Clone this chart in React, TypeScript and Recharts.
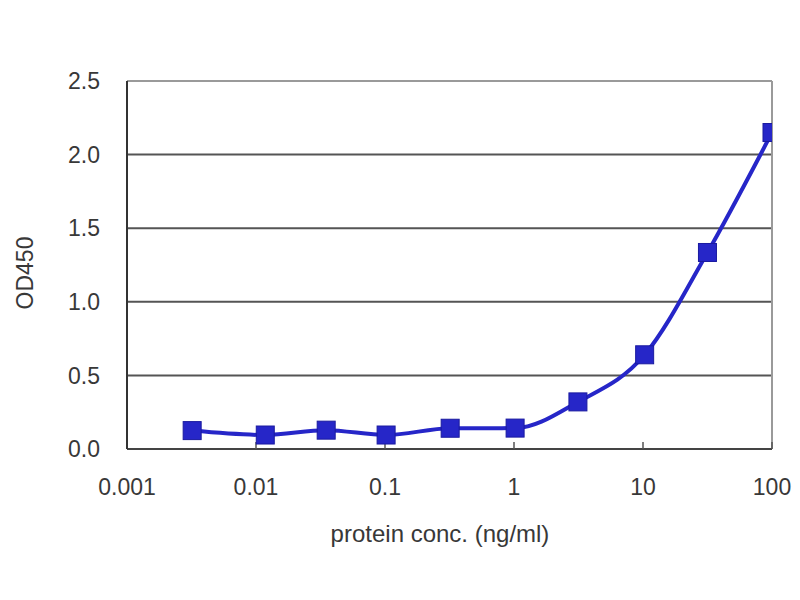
import { LineChart, Line, XAxis, YAxis, CartesianGrid, ReferenceLine } from 'recharts';

const concentrations = [0.0032, 0.0118, 0.035, 0.102, 0.32, 1.02, 3.13, 10.3, 31.6, 100];
const od450 = [0.125, 0.095, 0.128, 0.095, 0.141, 0.142, 0.32, 0.64, 1.335, 2.15];
const xTicks = [0.001, 0.01, 0.1, 1, 10, 100];
const yTicks = [0, 0.5, 1.0, 1.5, 2.0, 2.5];

const data = concentrations.map((c, i) => ({ conc: c, od: od450[i] }));

const BLUE = '#2626c8';
const TEXT = '#383838';
const FONT = '"Liberation Sans", Arial, sans-serif';

function SquareDot(props: any) {
  const { cx, cy } = props;
  if (cx == null || cy == null) return null;
  const s = 18;
  return <rect x={cx - s / 2} y={cy - s / 2} width={s} height={s} fill={BLUE} stroke="#1a1aa0" strokeWidth={1} />;
}

const xLabel = () => (
  <text x={440} y={533} textAnchor="middle" dominantBaseline="central" fill={TEXT} fontSize={24} fontFamily={FONT}>
    protein conc. (ng/ml)
  </text>
);

const yLabel = () => (
  <text x={25} y={273} transform="rotate(-90 25 273)" textAnchor="middle" dominantBaseline="central" fill={TEXT} fontSize={23} fontFamily={FONT}>
    OD450
  </text>
);

export default function App() {
  return (
    <div style={{ position: 'absolute', left: 0, top: 0, width: 800, height: 600, background: '#fff' }}>
      <LineChart
        width={800}
        height={600}
        data={data}
        margin={{ top: 81, right: 28, bottom: 121, left: 17 }}
      >
        <CartesianGrid vertical={false} stroke="#555" strokeWidth={2} />
        <XAxis
          dataKey="conc"
          type="number"
          scale="log"
          domain={[0.001, 100]}
          ticks={xTicks}
          tickFormatter={(v: number) => String(v)}
          allowDataOverflow
          height={30}
          tickSize={-7}
          tickMargin={37}
          tickLine={{ stroke: '#555', strokeWidth: 1.5 }}
          axisLine={{ stroke: '#444', strokeWidth: 2 }}
          tick={{ fill: TEXT, fontSize: 23, fontFamily: FONT }}
          label={xLabel}
        />
        <YAxis
          type="number"
          domain={[0, 2.5]}
          ticks={yTicks}
          tickFormatter={(v: number) => v.toFixed(1)}
          width={110}
          tickLine={false}
          tickSize={0}
          tickMargin={27}
          axisLine={{ stroke: '#333', strokeWidth: 2 }}
          tick={{ fill: TEXT, fontSize: 23, fontFamily: FONT }}
          label={yLabel}
        />
        <ReferenceLine y={2.5} stroke="#9a9a9a" strokeWidth={2} />
        <ReferenceLine x={100} stroke="#9a9a9a" strokeWidth={2} />
        <Line
          type="monotone"
          dataKey="od"
          stroke={BLUE}
          strokeWidth={4}
          dot={<SquareDot />}
          activeDot={false}
          isAnimationActive={false}
        />
      </LineChart>
    </div>
  );
}
